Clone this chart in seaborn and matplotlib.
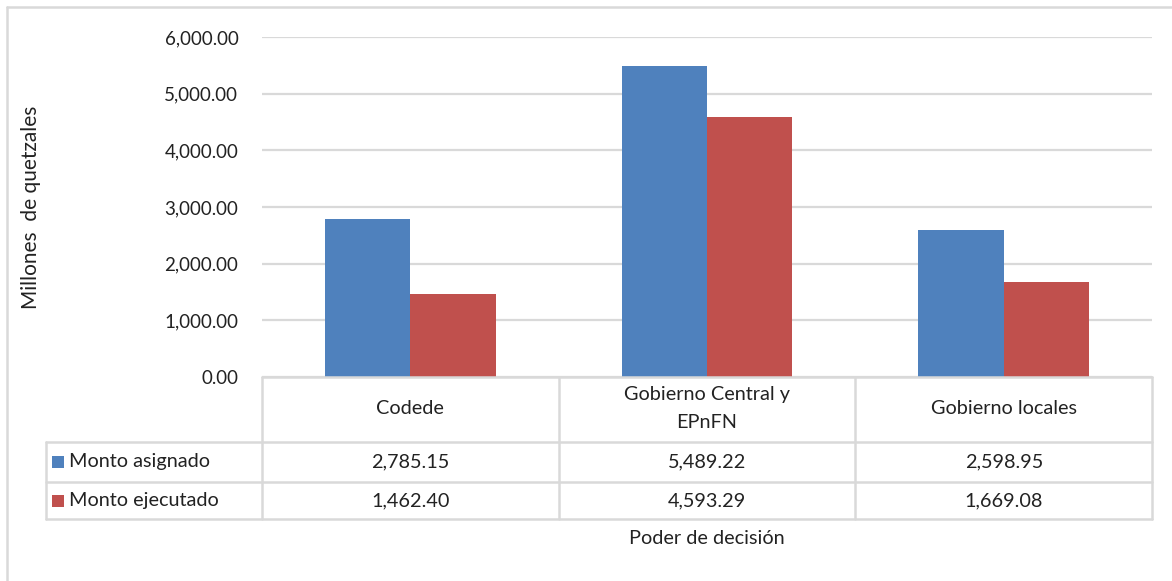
import matplotlib
matplotlib.use("Agg")
import matplotlib.pyplot as plt
import matplotlib.transforms as mtransforms
import seaborn as sns
import pandas as pd

# data
categorias = ["Codede", "Gobierno Central y\nEPnFN", "Gobierno locales"]
series = ["Monto asignado", "Monto ejecutado"]
monto_asignado = [2785.15, 5489.22, 2598.95]
monto_ejecutado = [1462.40, 4593.29, 1669.08]
colores = ["#4F81BD", "#C0504D"]
y_ticks = [0, 1000, 2000, 3000, 4000, 5000, 6000]

df = pd.DataFrame({
    "categoria": categorias * 2,
    "serie": [series[0]] * 3 + [series[1]] * 3,
    "monto": monto_asignado + monto_ejecutado,
})

sns.set_theme(style="white")
plt.rcParams["font.family"] = ["Lato", "DejaVu Sans"]

W, H = 1172, 581
fig = plt.figure(figsize=(W / 100, H / 100), dpi=100)

def fx(px):
    return px / W

def fy(py):
    return 1 - py / H

ax = fig.add_axes([fx(262), fy(377), fx(1152) - fx(262), fy(37) - fy(377)])
sns.barplot(data=df, x="categoria", y="monto", hue="serie", palette=colores,
            width=0.575, saturation=1, linewidth=0, ax=ax, legend=False)

ax.set_ylim(0, 6000)
ax.set_xlim(-0.5, 2.5)
ax.set_yticks(y_ticks)
ax.set_yticklabels([f"{v:,.2f}" for v in y_ticks], fontsize=13.5, color="#222222")
ax.tick_params(axis="y", length=0, pad=17)
ax.set_xticks([])
ax.set_xlabel("")
ax.set_ylabel("")
ax.yaxis.grid(True, color="#D9D9D9", linewidth=1.6)
ax.set_axisbelow(True)
for s in ax.spines.values():
    s.set_visible(False)

lc = "#D9D9D9"
lw = 1.8
fs = 14.3
tc = "#222222"

# outer chart border
fig.add_artist(plt.Line2D([fx(7), fx(7)], [fy(7), 0], color=lc, lw=lw))
fig.add_artist(plt.Line2D([fx(7), 1], [fy(7), fy(7)], color=lc, lw=lw))

# data table below the plot
trans = mtransforms.blended_transform_factory(ax.transData, fig.transFigure)
x_bounds = [-0.5, 0.5, 1.5, 2.5]
y_top, y_h, y_r1, y_r2 = fy(377), fy(442), fy(482), fy(519)

fig.add_artist(plt.Line2D([fx(262), fx(1152)], [y_top, y_top], color=lc, lw=lw))
for yy in [y_h, y_r1, y_r2]:
    fig.add_artist(plt.Line2D([fx(46), fx(1152)], [yy, yy], color=lc, lw=lw))
fig.add_artist(plt.Line2D([fx(46), fx(46)], [y_h, y_r2], color=lc, lw=lw))
for xb in x_bounds:
    ax.add_artist(plt.Line2D([xb, xb], [y_top, y_r2], color=lc, lw=lw,
                             transform=trans, clip_on=False))

for i, cat in enumerate(categorias):
    ax.text(i, (y_top + y_h) / 2 + 1 / H, cat, transform=trans, ha="center", va="center",
            fontsize=fs, color=tc, linespacing=1.75)
    ax.text(i, (y_h + y_r1) / 2, f"{monto_asignado[i]:,.2f}", transform=trans,
            ha="center", va="center", fontsize=fs, color=tc)
    ax.text(i, (y_r1 + y_r2) / 2, f"{monto_ejecutado[i]:,.2f}", transform=trans,
            ha="center", va="center", fontsize=fs, color=tc)

for yy0, yy1, nombre, col in [(y_h, y_r1, series[0], colores[0]),
                              (y_r1, y_r2, series[1], colores[1])]:
    yc = (yy0 + yy1) / 2
    fig.add_artist(plt.Rectangle((fx(52), yc - 6 / H), 12 / W, 12 / H,
                                 facecolor=col, edgecolor="none"))
    fig.text(fx(69), yc, nombre, ha="left", va="center", fontsize=fs, color=tc)

fig.text(fx(707), fy(538), "Poder de decisión", ha="center", va="center",
         fontsize=fs, color=tc)
fig.text(fx(31), fy(207), "Millones  de quetzales", rotation=90, ha="center",
         va="center", fontsize=15, color=tc)

fig.savefig("out.png", dpi=100, facecolor="white")
